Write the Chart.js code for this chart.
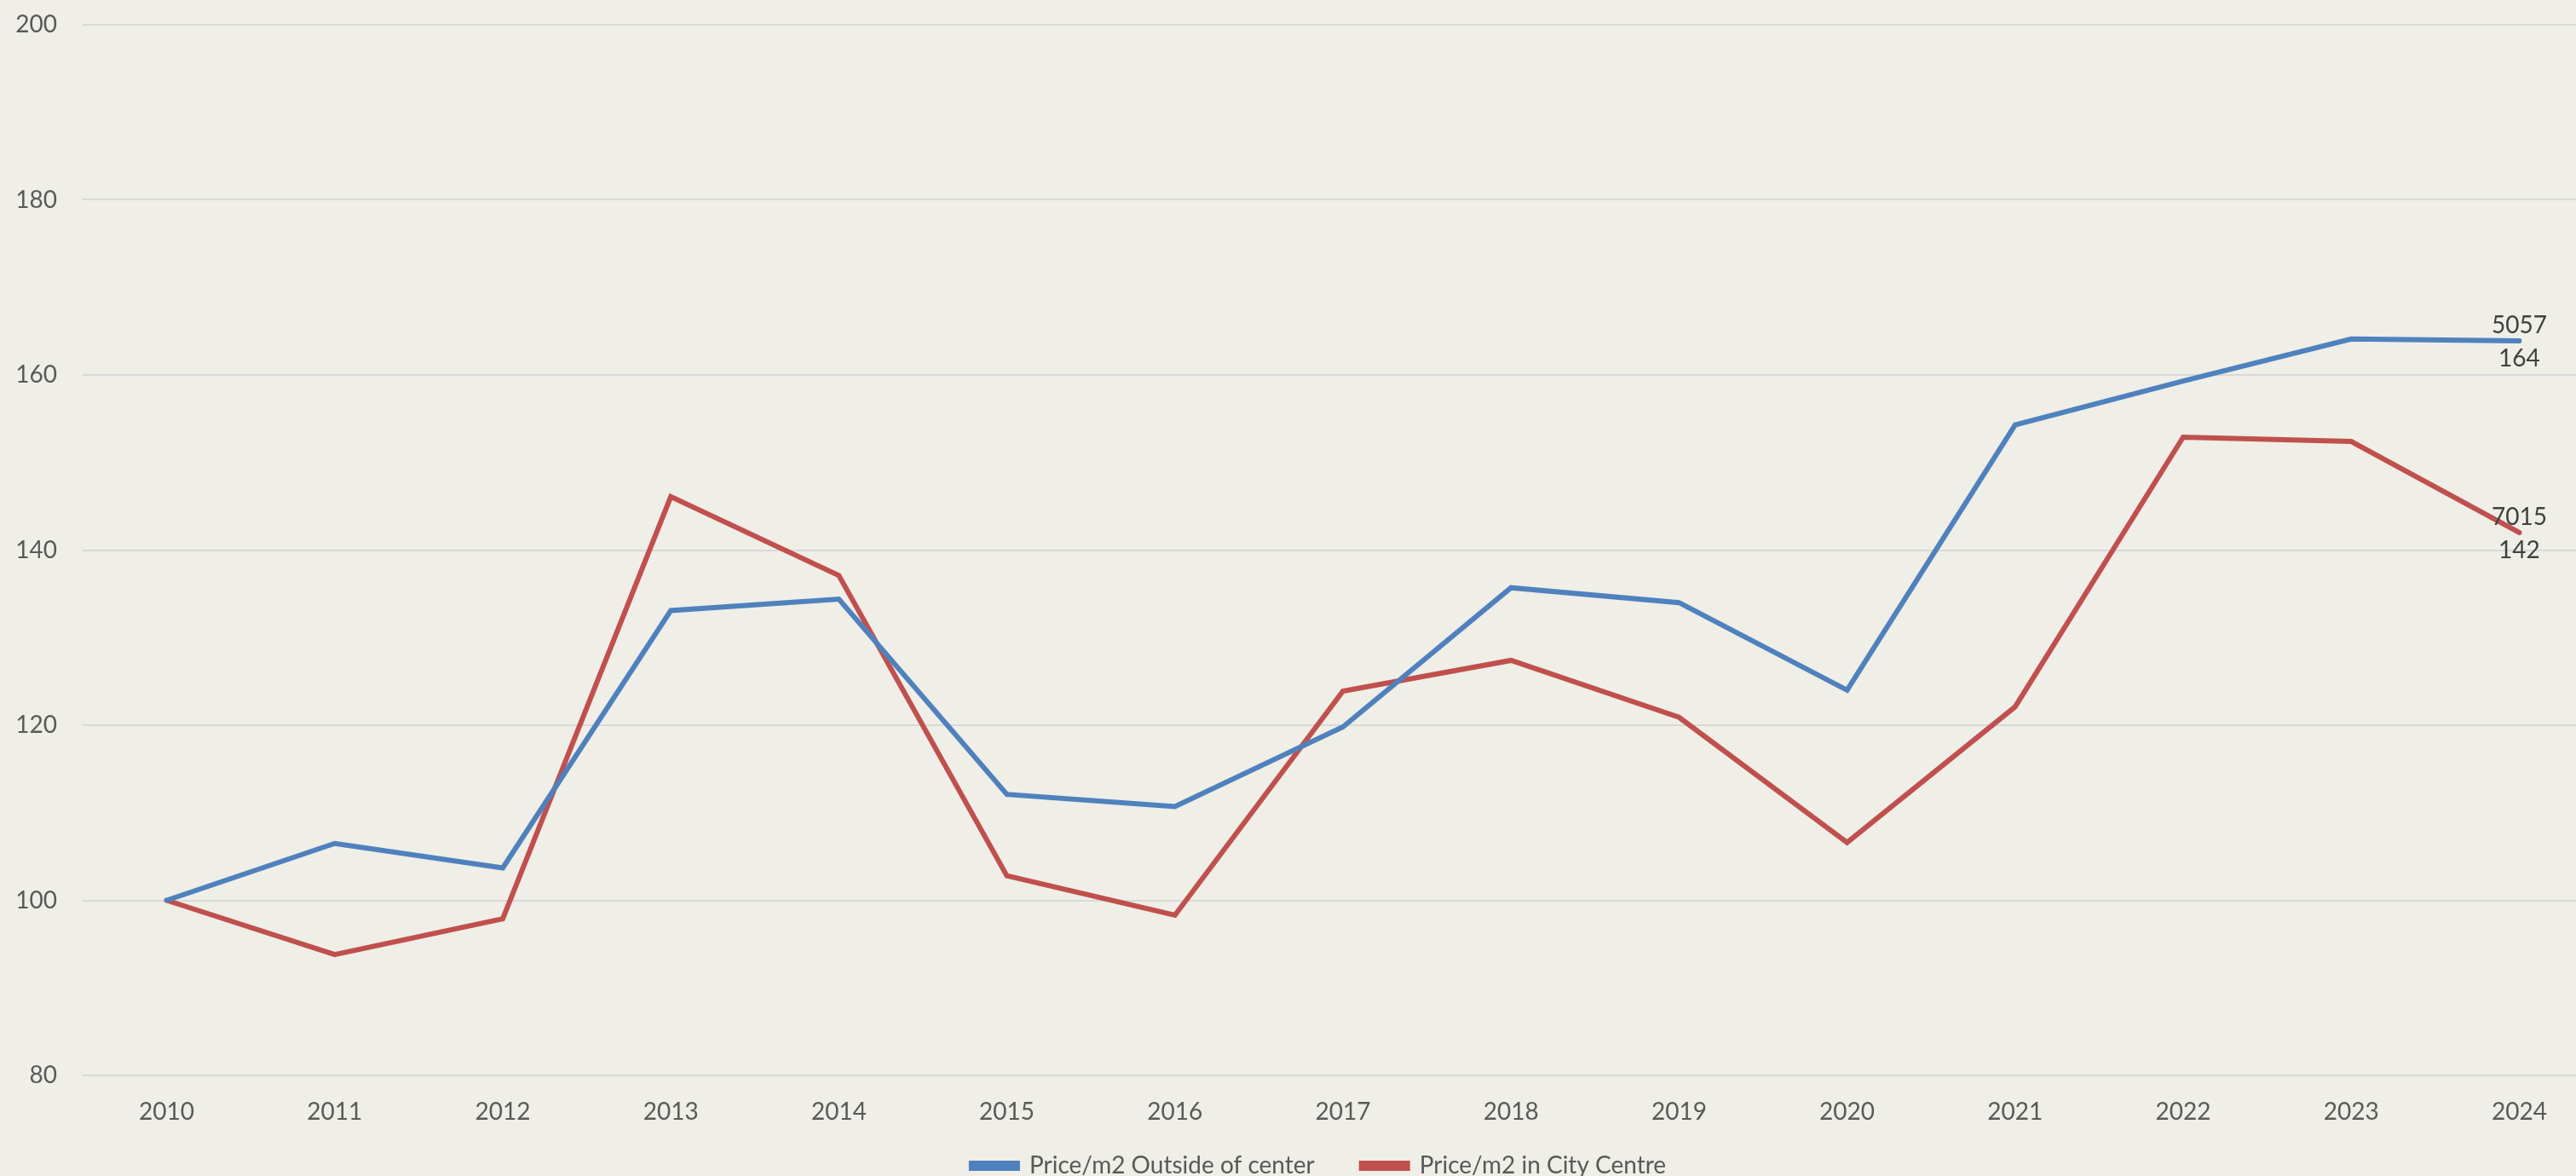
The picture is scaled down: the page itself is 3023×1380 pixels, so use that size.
<!DOCTYPE html>
<html lang="en">
<head>
  <meta charset="UTF-8" />
  <title>Price/m2 index</title>
  <script src="https://cdn.jsdelivr.net/npm/chart.js"></script>
  <style>
    html, body {
      margin: 0;
      padding: 0;
      overflow: hidden;
      background: #efeee7;
    }
    #wrap {
      width: 3094px;
      height: 1380px;
    }
  </style>
</head>
<body>
  <div id="wrap"><canvas id="chart" width="3094" height="1380"></canvas></div>
  <script>
    // data
    const years = ['2010', '2011', '2012', '2013', '2014', '2015', '2016', '2017',
      '2018', '2019', '2020', '2021', '2022', '2023', '2024'];
    const outsideCenter = [100, 106.5, 103.7, 133.1, 134.4, 112.1, 110.7, 119.8,
      135.7, 134.0, 124.0, 154.3, 159.3, 164.1, 163.9];
    const cityCentre = [100, 93.8, 97.9, 146.1, 137.1, 102.8, 98.3, 123.9,
      127.4, 120.9, 106.6, 122.1, 152.9, 152.4, 142.0];
    const seriesNames = ['Price/m2 Outside of center', 'Price/m2 in City Centre'];
    const lastPrices = ['5057', '7015'];   // price shown above the index at the last point
    const yTicks = [80, 100, 120, 140, 160, 180, 200];

    const blue = '#4f81bd';
    const red = '#c0504d';
    const textGrey = '#595959';
    const fontFamily = 'Lato, "Open Sans", sans-serif';

    // last point labels: price on top, index below
    const endLabelPlugin = {
      id: 'endLabels',
      afterDatasetsDraw(chart) {
        const { ctx } = chart;
        ctx.save();
        ctx.font = '28px ' + fontFamily;
        ctx.fillStyle = '#404040';
        ctx.textAlign = 'center';
        ctx.textBaseline = 'middle';
        chart.data.datasets.forEach((ds, i) => {
          const meta = chart.getDatasetMeta(i);
          const pt = meta.data[meta.data.length - 1];
          const val = ds.data[ds.data.length - 1];
          ctx.fillText(lastPrices[i], pt.x, pt.y - 18);
          ctx.fillText(Math.round(val).toString(), pt.x, pt.y + 21);
        });
        ctx.restore();
      }
    };

    // background + legend nudged right (original legend is centred on the uncropped width)
    const bgPlugin = {
      id: 'bg',
      afterLayout(chart) {
        if (chart.legend) chart.legend.left = 40;
      },
      beforeDraw(chart) {
        const { ctx, width, height } = chart;
        ctx.save();
        ctx.fillStyle = '#efeee7';
        ctx.fillRect(0, 0, width, height);
        ctx.restore();
      }
    };

    new Chart(document.getElementById('chart'), {
      type: 'line',
      data: {
        labels: years,
        datasets: [
          {
            label: seriesNames[0],
            data: outsideCenter,
            borderColor: blue,
            backgroundColor: blue,
            borderWidth: 6,
            pointRadius: 0,
            tension: 0,
            borderCapStyle: 'round',
            borderJoinStyle: 'miter'
          },
          {
            label: seriesNames[1],
            data: cityCentre,
            borderColor: red,
            backgroundColor: red,
            borderWidth: 6,
            pointRadius: 0,
            tension: 0,
            borderCapStyle: 'round',
            borderJoinStyle: 'miter'
          }
        ]
      },
      options: {
        responsive: false,
        animation: false,
        devicePixelRatio: 1,
        layout: {
          padding: { top: 29, right: 39, left: 0, bottom: -12 }
        },
        scales: {
          x: {
            offset: true,
            grid: { display: false, drawTicks: false },
            border: { display: false },
            ticks: {
              color: textGrey,
              font: { family: fontFamily, size: 28 },
              padding: 26,
              maxRotation: 0
            },
            afterFit(scale) { scale.height = 80; }
          },
          y: {
            min: 80,
            max: 200,
            afterBuildTicks(scale) {
              scale.ticks = yTicks.map(v => ({ value: v }));
            },
            grid: { color: '#d9d9d9', lineWidth: 2, drawTicks: false },
            border: { display: false },
            ticks: {
              color: textGrey,
              font: { family: fontFamily, size: 28 },
              padding: 30
            },
            afterFit(scale) {
              scale.width = 97;
              scale.paddingTop = 0;
              scale.paddingBottom = 0;
            }
          }
        },
        plugins: {
          legend: {
            position: 'bottom',
            labels: {
              color: textGrey,
              font: { family: fontFamily, size: 28 },
              boxWidth: 54,
              boxHeight: 6,
              padding: 12,
              generateLabels(chart) {
                const items = Chart.defaults.plugins.legend.labels.generateLabels(chart);
                // wider gap after the first entry
                items[0].text = items[0].text + '      ';
                return items;
              }
            }
          },
          tooltip: { enabled: false }
        }
      },
      plugins: [bgPlugin, endLabelPlugin]
    });
  </script>
</body>
</html>
